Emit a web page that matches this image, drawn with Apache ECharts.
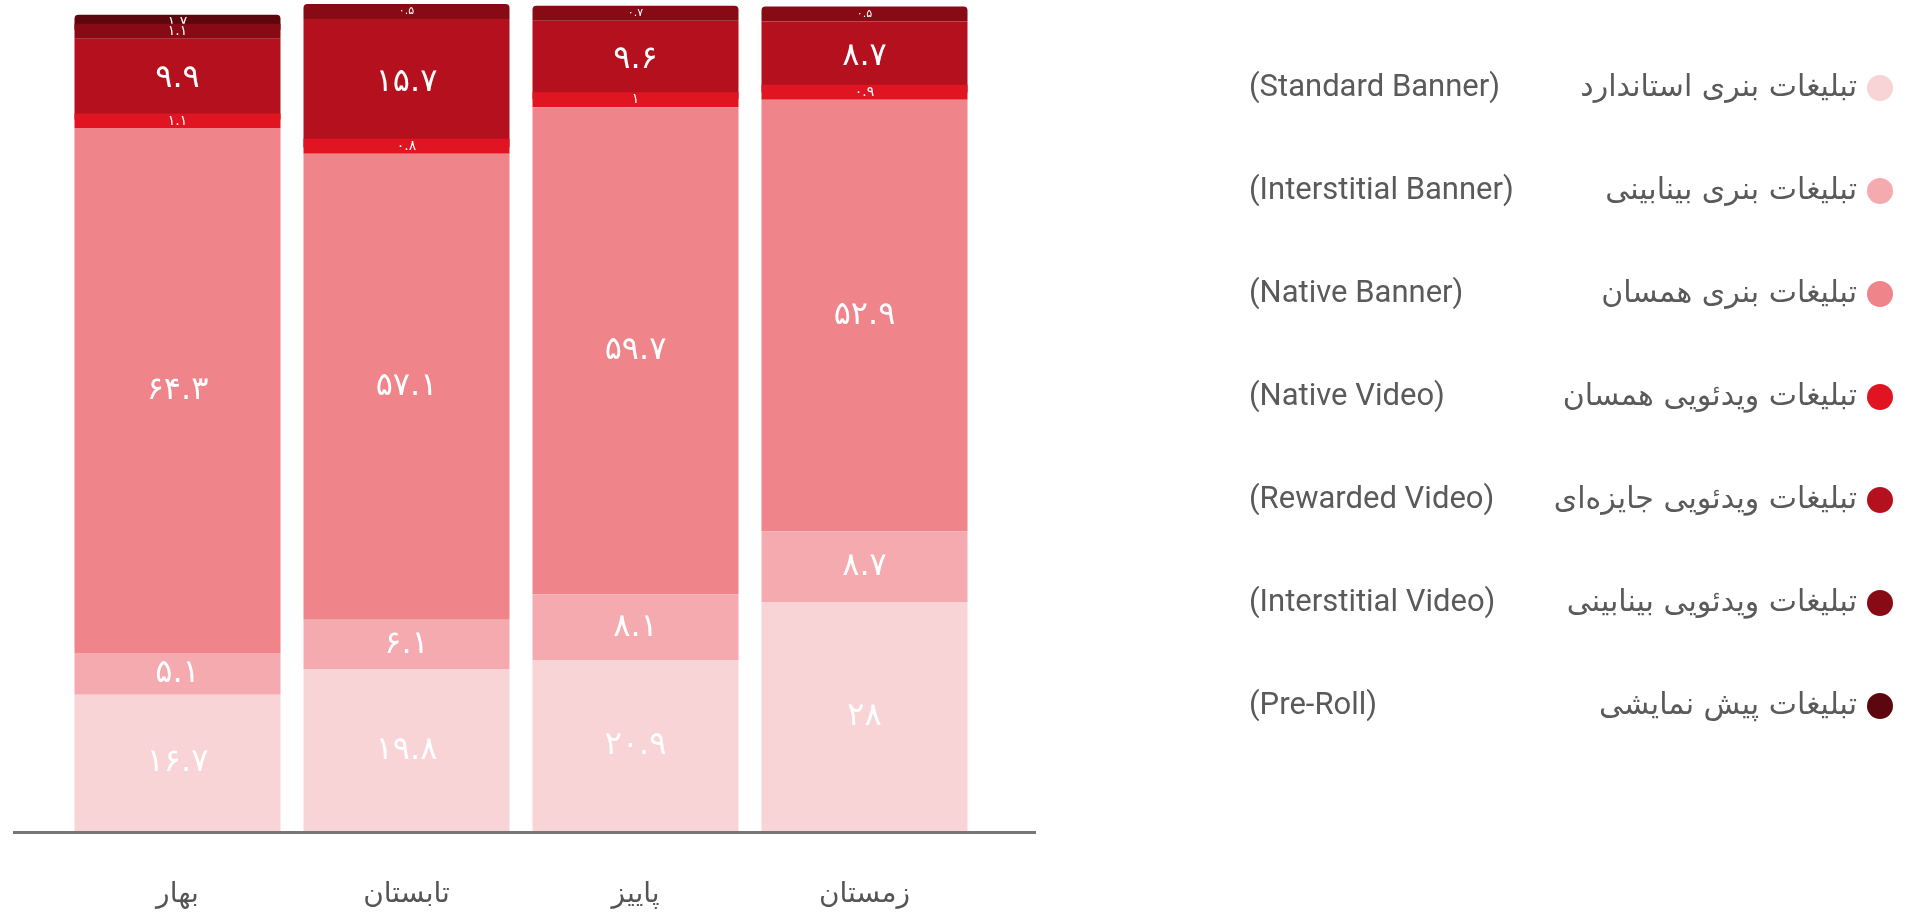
<!DOCTYPE html>
<html>
<head>
<meta charset="utf-8">
<script src="https://cdn.jsdelivr.net/npm/echarts@6/dist/echarts.min.js"></script>
<style>
  html, body { margin: 0; padding: 0; background: #fff; }
  #main { width: 1921px; height: 914px; }
</style>
</head>
<body>
<div id="main"></div>
<script>
// seasons, left to right
var seasons = ['بهار', 'تابستان', 'پاییز', 'زمستان'];

// series names, bottom of the stack first
var namesFa = ['تبلیغات بنری استاندارد', 'تبلیغات بنری بینابینی', 'تبلیغات بنری همسان',
  'تبلیغات ویدئویی همسان', 'تبلیغات ویدئویی جایزه‌ای', 'تبلیغات ویدئویی بینابینی', 'تبلیغات پیش نمایشی'];
var namesEn = ['(Standard Banner)', '(Interstitial Banner)', '(Native Banner)',
  '(Native Video)', '(Rewarded Video)', '(Interstitial Video)', '(Pre-Roll)'];
var colors = ['#f8d4d7', '#f5aab0', '#ef848a', '#e11522', '#b5101d', '#870a14', '#5b070d'];

// percent values per season
var standardBanner = [16.7, 19.8, 20.9, 28];
var interstitialBanner = [5.1, 6.1, 8.1, 8.7];
var nativeBanner = [64.3, 57.1, 59.7, 52.9];
var nativeVideo = [1.1, 0.8, 1.0, 0.9];
var rewardedVideo = [9.9, 15.7, 9.6, 8.7];
var interstitialVideo = [1.1, 0.5, 0.7, 0.5];
var preRoll = [1.7, null, null, null];

var values = [standardBanner, interstitialBanner, nativeBanner, nativeVideo,
  rewardedVideo, interstitialVideo, preRoll];

function faDigits(v) {
  return String(v).replace(/[0-9]/g, function (d) { return '۰۱۲۳۴۵۶۷۸۹'[d]; });
}

// which series is on top of each bar (gets the rounded corners)
var topIdx = seasons.map(function (s, c) {
  var t = 0;
  for (var i = 0; i < values.length; i++) {
    if (values[i][c] != null) t = i;
  }
  return t;
});

var series = [];
for (var i = 0; i < values.length; i++) {
  var data = [];
  for (var c = 0; c < seasons.length; c++) {
    var v = values[i][c];
    if (v == null) { data.push('-'); continue; }
    var item = {
      value: v,
      label: { fontSize: v >= 5 ? 32 : (v >= 0.8 ? 14 : 11) }
    };
    if (topIdx[c] === i) item.itemStyle = { borderRadius: [4, 4, 0, 0] };
    data.push(item);
  }
  series.push({
    name: namesFa[i],
    type: 'bar',
    stack: 'all',
    barWidth: 206,
    barMinHeight: 15,
    clip: false,
    // lower segments sit above the next one so thin bands stay visible
    z: 2 + values.length - i,
    itemStyle: { color: colors[i] },
    label: {
      show: true,
      position: 'inside',
      color: '#fff',
      fontFamily: 'DejaVu Sans',
      formatter: function (p) { return faDigits(p.value); }
    },
    data: data
  });
}

var chart = echarts.init(document.getElementById('main'));
var option = {
  animation: false,
  grid: { left: 63, width: 916, top: 15, bottom: 83 },
  xAxis: {
    type: 'category',
    data: seasons,
    axisLine: { show: false },
    axisTick: { show: false },
    axisLabel: { fontSize: 28, color: '#555', margin: 50, fontFamily: 'DejaVu Sans' }
  },
  yAxis: { type: 'value', min: 0, max: 100, show: false },
  legend: {
    orient: 'vertical',
    right: 23,
    top: 63,
    align: 'right',
    icon: 'circle',
    itemWidth: 26,
    itemHeight: 26,
    itemGap: 63,
    selectedMode: false,
    formatter: function (name) {
      var k = namesFa.indexOf(name);
      return '{en|' + namesEn[k] + '}{fa|' + name + '}';
    },
    textStyle: {
      lineHeight: 40,
      rich: {
        en: { width: 272, align: 'left', fontFamily: 'Roboto', fontSize: 31, color: '#5a5a5a' },
        fa: { width: 336, align: 'right', fontFamily: 'DejaVu Sans', fontSize: 30, color: '#5a5a5a', padding: [0, 5, 0, 0] }
      }
    }
  },
  graphic: [{
    type: 'line',
    shape: { x1: 13, y1: 832.5, x2: 1036, y2: 832.5 },
    style: { stroke: '#777', lineWidth: 3 }
  }],
  series: series
};
chart.setOption(option);
</script>
</body>
</html>
